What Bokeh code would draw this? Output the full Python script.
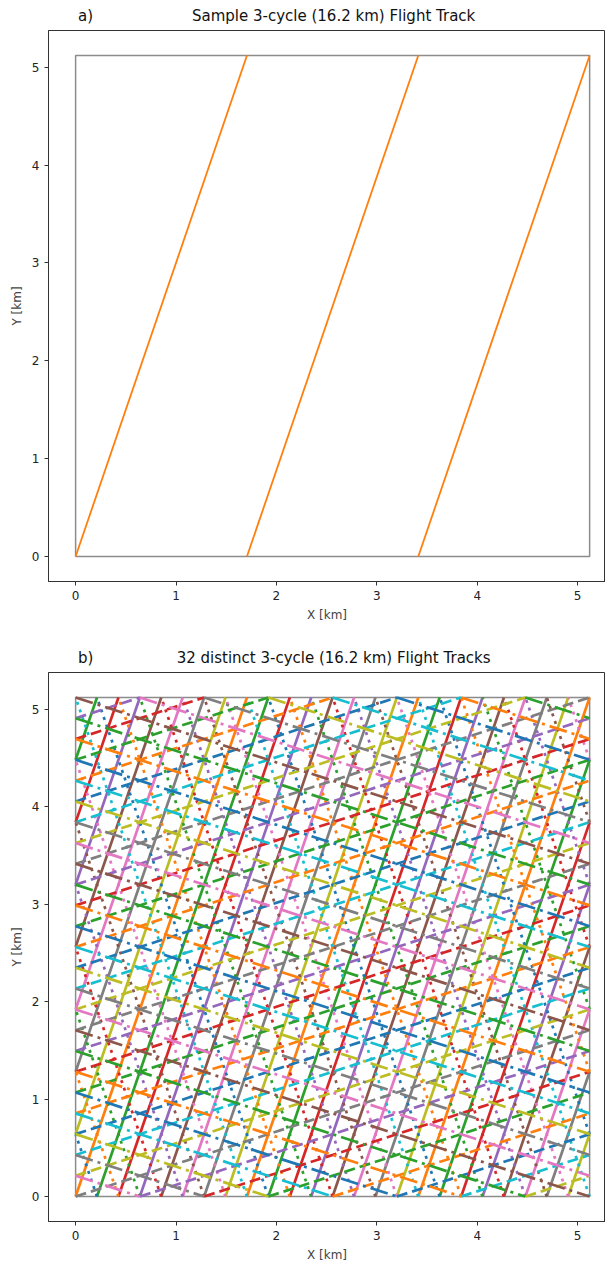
import numpy as np
from bokeh.plotting import figure
from bokeh.layouts import column
from bokeh.models import Range1d, LinearAxis, FixedTicker
from bokeh.embed import file_html
from bokeh.resources import INLINE

# ---------------- data ----------------
L = 5.12  # domain size [km]
# panel a: one sample track (direction dx:dy = 1:3 cycles)
sample_x0 = [0.0]
sample_y0 = [0.0]
sample_cx = [1]
sample_cy = [3]

# panel b: 32 tracks (start point, cycles in x and y, colour, line style)
offsets = [0.0, 0.213, 0.427, 0.640, 0.853, 1.067, 1.280, 1.493]
track_x0 = offsets + offsets + [0.0] * 8 + [0.0] * 8
track_y0 = [0.0] * 8 + [0.0] * 8 + offsets + offsets
track_cx = [1] * 8 + [-1] * 8 + [3] * 8 + [3] * 8
track_cy = [3] * 8 + [3] * 8 + [1] * 8 + [-1] * 8
tab10 = ["#1f77b4", "#ff7f0e", "#2ca02c", "#d62728", "#9467bd",
         "#8c564b", "#e377c2", "#7f7f7f", "#bcbd22", "#17becf"]
track_color = [tab10[(k + 1) % 10] for k in range(32)]
track_style = ["solid"] * 8 + ["dotted"] * 8 + ["dashed"] * 8 + ["dashdot"] * 8

x_ticks = [0, 1, 2, 3, 4, 5]
y_ticks = [0, 1, 2, 3, 4, 5]

DASH = {"solid": "solid", "dashed": "11 5", "dashdot": "18 5 3 5", "dotted": "3 5"}


def wrap_track(x0, y0, cx, cy, size):
    """Split a periodic straight track into pieces inside the [0,size]^2 box."""
    ts = {0.0, 1.0}
    for k in range(-10, 11):
        if cx != 0:
            t = (k * size - x0) / (cx * size)
            if 0 < t < 1:
                ts.add(t)
        if cy != 0:
            t = (k * size - y0) / (cy * size)
            if 0 < t < 1:
                ts.add(t)
    ts = sorted(ts)
    xs, ys = [], []
    for t0, t1 in zip(ts[:-1], ts[1:]):
        if t1 - t0 < 1e-9:
            continue
        tm = 0.5 * (t0 + t1)
        xm = x0 + cx * size * tm
        ym = y0 + cy * size * tm
        ox = np.floor(xm / size) * size
        oy = np.floor(ym / size) * size
        xs.append([x0 + cx * size * t0 - ox, x0 + cx * size * t1 - ox])
        ys.append([y0 + cy * size * t0 - oy, y0 + cy * size * t1 - oy])
    return xs, ys


def make_fig(height, top, bottom, title, letter):
    p = figure(width=605, height=height, output_backend="svg", toolbar_location=None,
               x_range=Range1d(-0.27, 5.278), y_range=Range1d(-0.256, 5.376),
               min_border_left=48, min_border_right=0, min_border_top=top,
               min_border_bottom=bottom)
    p.xgrid.visible = False
    p.ygrid.visible = False
    p.outline_line_color = "#333333"
    p.outline_line_width = 1
    for ax in (p.xaxis[0], p.yaxis[0]):
        ax.axis_line_color = "#333333"
        ax.major_tick_line_color = "#333333"
        ax.minor_tick_line_color = None
        ax.major_tick_out = 4
        ax.major_tick_in = 0
        ax.major_label_text_font = "DejaVu Sans"
        ax.major_label_text_font_size = "12px"
        ax.major_label_text_color = "#222222"
        ax.axis_label_text_font = "DejaVu Sans"
        ax.axis_label_text_font_size = "12px"
        ax.axis_label_text_font_style = "normal"
        ax.major_label_standoff = 5
        ax.axis_label_standoff = 5
    p.xaxis.ticker = x_ticks
    p.yaxis.ticker = y_ticks
    p.yaxis.axis_label_standoff = 5
    p.xaxis.axis_label = "X [km]"
    p.yaxis.axis_label = "Y [km]"
    # title row: letter and title placed as labels of a bare top axis
    top_ax = LinearAxis(ticker=FixedTicker(ticks=[0.1, 2.57]),
                        major_label_overrides={0.1: letter, 2.57: title})
    top_ax.axis_line_color = None
    top_ax.major_tick_line_color = None
    top_ax.minor_tick_line_color = None
    top_ax.major_tick_out = 0
    top_ax.major_tick_in = 0
    top_ax.major_label_standoff = 6
    top_ax.major_label_text_font = "DejaVu Sans"
    top_ax.major_label_text_font_size = "15px"
    top_ax.major_label_text_color = "#111111"
    p.add_layout(top_ax, "above")
    # domain box
    p.line([0, L, L, 0, 0], [0, 0, L, L, 0], line_color="#8c8c8c", line_width=1.5)
    return p


p1 = make_fig(636, 30, 55, "Sample 3-cycle (16.2 km) Flight Track", "a)")
for x0, y0, cx, cy in zip(sample_x0, sample_y0, sample_cx, sample_cy):
    xs, ys = wrap_track(x0, y0, cx, cy, L)
    p1.multi_line(xs, ys, line_color="#ff7f0e", line_width=1.8)

p2 = make_fig(628, 36, 40, "32 distinct 3-cycle (16.2 km) Flight Tracks", "b)")
for x0, y0, cx, cy, c, s in zip(track_x0, track_y0, track_cx, track_cy, track_color, track_style):
    xs, ys = wrap_track(x0, y0, cx, cy, L)
    p2.multi_line(xs, ys, line_color=c, line_width=2.7, line_dash=DASH[s])

layout = column(p1, p2, spacing=0)
open("out.html", "w").write(file_html(layout, INLINE))
